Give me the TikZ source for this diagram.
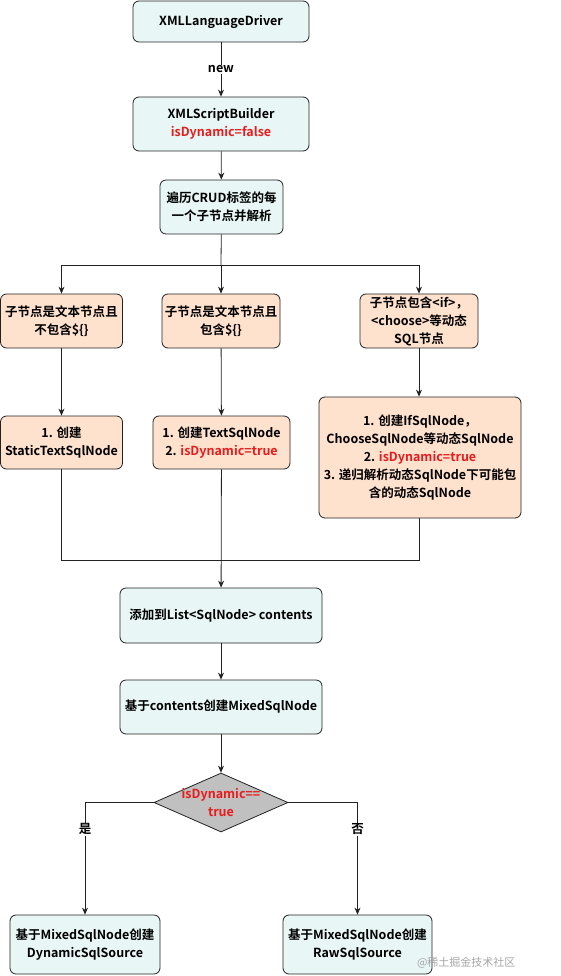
\documentclass[tikz,border=0pt]{standalone}
\usepackage{fontspec}
\setmainfont{Noto Sans CJK SC}[BoldFont={Noto Sans CJK SC Bold}]
\usetikzlibrary{shapes.geometric,arrows.meta}
\definecolor{cyanfill}{RGB}{232,246,246}
\definecolor{orfill}{RGB}{255,226,206}
\definecolor{grayfill}{RGB}{192,192,192}
\definecolor{redtxt}{RGB}{232,28,28}
\definecolor{edge}{RGB}{34,34,34}
\tikzset{
  base/.style={draw=edge, line width=0.8pt, rounded corners=6pt, align=center,
    font=\fontsize{12.5}{18}\selectfont\bfseries, inner sep=2pt},
  cbox/.style={base, fill=cyanfill},
  obox/.style={base, fill=orfill},
  dbox/.style={draw=edge, line width=0.8pt, fill=grayfill, diamond, aspect=2.27,
    inner sep=0pt},
  dtext/.style={align=center, inner sep=0pt, font=\fontsize{12.5}{18}\selectfont\bfseries},
  arr/.style={draw=edge, line width=0.8pt, -{Stealth[length=7pt,width=6pt]}},
  ln/.style={draw=edge, line width=0.8pt},
  lbl/.style={fill=white, inner sep=1pt, font=\fontsize{12.5}{14}\selectfont\bfseries}
}
\newcommand{\rd}[1]{\textcolor{redtxt}{#1}}
\begin{document}
\begin{tikzpicture}[x=1pt,y=-1pt]
\useasboundingbox (0,0) rectangle (560,976);
\node[cbox, minimum width=176pt, minimum height=41pt] (n1) at (221,21.5) {XMLLanguageDriver};
\node[cbox, minimum width=176pt, minimum height=54pt] (n2) at (221,124) {XMLScriptBuilder\\\rd{isDynamic=false}};
\node[cbox, minimum width=123pt, minimum height=54pt] (n3) at (221.5,207) {遍历CRUD标签的每\\一个子节点并解析};
\node[obox, minimum width=122pt, minimum height=54pt] (a1) at (61.5,321) {子节点是文本节点且\\不包含\$\{\}};
\node[obox, minimum width=118pt, minimum height=54pt] (a2) at (221,321) {子节点是文本节点且\\包含\$\{\}};
\node[obox, minimum width=118pt, minimum height=54pt] (a3) at (419,321) {子节点包含<if>，\\<choose>等动态\\SQL节点};
\node[obox, minimum width=122pt, minimum height=53pt] (b1) at (61.5,442.5) {1. 创建\\StaticTextSqlNode};
\node[obox, minimum width=137pt, minimum height=53pt] (b2) at (221.5,442.5) {1. 创建TextSqlNode\\2. \rd{isDynamic=true}};
\node[obox, minimum width=202pt, minimum height=121pt] (b3) at (420,457.5) {1. 创建IfSqlNode，\\ChooseSqlNode等动态SqlNode\\2. \rd{isDynamic=true}\\3. 递归解析动态SqlNode下可能包\\含的动态SqlNode};
\node[cbox, minimum width=202pt, minimum height=55pt] (c1) at (221,615.5) {添加到List<SqlNode> contents};
\node[cbox, minimum width=202pt, minimum height=54pt] (c2) at (221,707) {基于contents创建MixedSqlNode};
\node[dbox, minimum width=134pt, minimum height=59pt] (d) at (221,802.5) {};
\node[dtext] (dt) at (d.center) {\rd{isDynamic==}\\\rd{true}};
\node[cbox, minimum width=150pt, minimum height=59pt] (e1) at (85,944.5) {基于MixedSqlNode创建\\DynamicSqlSource};
\node[cbox, minimum width=149pt, minimum height=59pt] (e2) at (357.5,944.5) {基于MixedSqlNode创建\\RawSqlSource};
\coordinate (fork) at (221,265);
\coordinate (merge) at (221,560);
% connectors
\draw[arr] (n1) -- node[lbl] {new} (n2);
\draw[arr] (n2) -- (n3);
\draw[ln] (n3) -- (fork);
\draw[arr] (fork) -| (a1);
\draw[arr] (fork) -- (a2);
\draw[arr] (fork) -| (a3);
\draw[arr] (a1) -- (b1);
\draw[arr] (a2) -- (b2);
\draw[arr] (a3.south) -- (a3.south |- b3.north);
\draw[ln] (b1) |- (merge);
\draw[ln] (b3.south -| a3.south) |- (merge);
\draw[arr] (b2) -- (c1);
\draw[arr] (c1) -- (c2);
\draw[arr] (c2) -- (d);
\draw[arr] (d.west) -| node[lbl, pos=0.62] {是} (e1.north);
\draw[arr] (d.east) -| node[lbl, pos=0.62] {否} (e2.north);
\node[text=black!35, font=\fontsize{11}{13}\selectfont, anchor=east] (wm) at (519,963) {@稀土掘金技术社区};
\end{tikzpicture}
\end{document}
